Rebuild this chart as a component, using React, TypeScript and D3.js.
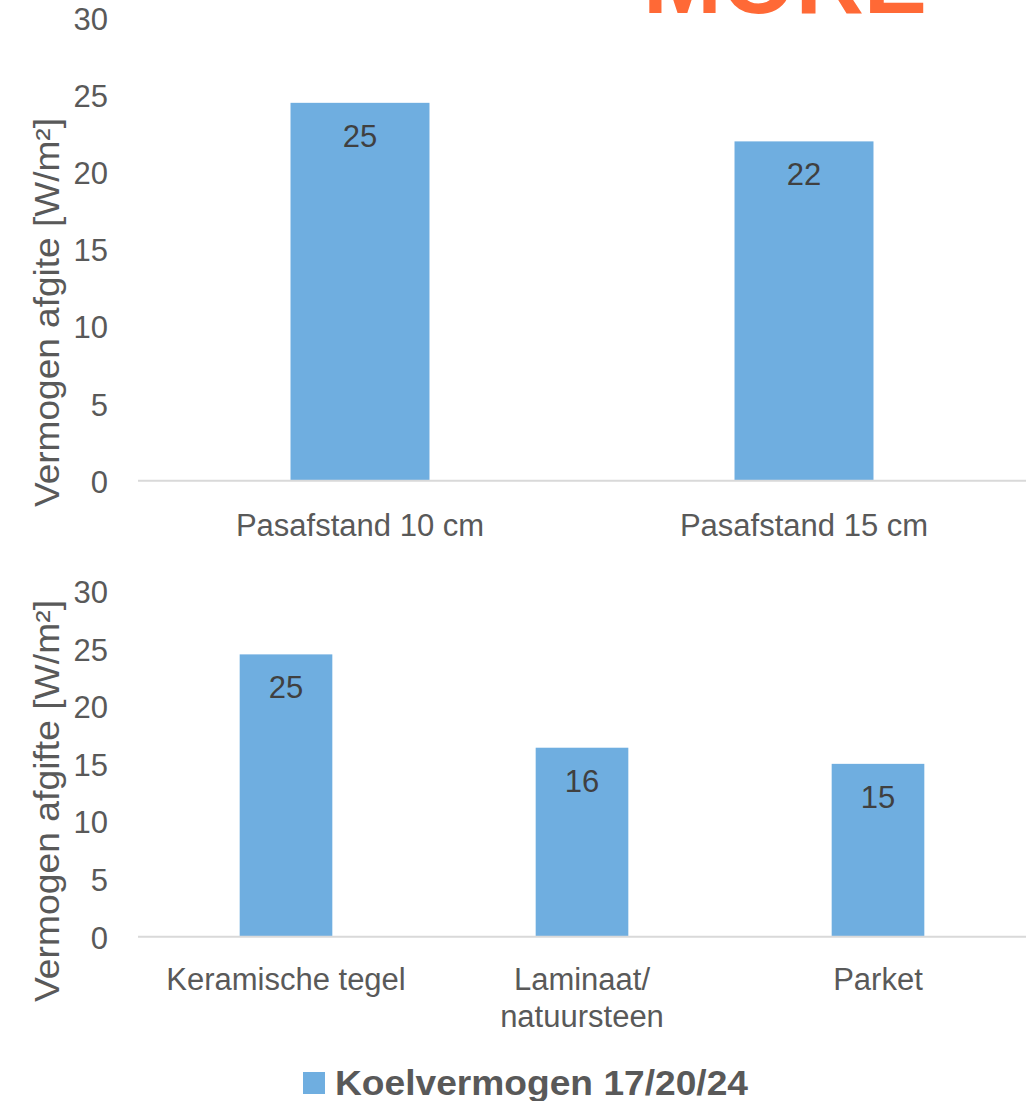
import React from "react";
import * as d3 from "d3";

// Cooling output per panel, W/m²
const seriesName = "Koelvermogen 17/20/24";
const spacingCategories = ["Pasafstand 10 cm", "Pasafstand 15 cm"];
const spacingValues = [24.5, 22.0];
const floorCategories = ["Keramische tegel", "Laminaat/\nnatuursteen", "Parket"];
const floorValues = [24.5, 16.4, 15.0];
const yTicks = [0, 5, 10, 15, 20, 25, 30];
const yMax = 30;
const spacingTitle = "Vermogen afgite [W/m²]";
const floorTitle = "Vermogen afgifte [W/m²]";

const W = 1028;
const H = 1101;
const FONT = "'Liberation Sans', Arial, sans-serif";
const BAR = "#6FAEE0";
const AXIS_TEXT = "#595959";
const VALUE_TEXT = "#404040";

type PanelProps = {
  categories: string[];
  values: number[];
  yTop: number;
  yBottom: number;
  labelY: number;
  title: string;
  titleCenter: number;
  titleLength: number;
};

function Panel({ categories, values, yTop, yBottom, labelY, title, titleCenter, titleLength }: PanelProps) {
  const x = d3
    .scaleBand<string>()
    .domain(categories)
    .range([138, 1026])
    .paddingInner(0.687)
    .paddingOuter(0.3435);
  const y = d3.scaleLinear().domain([0, yMax]).range([yBottom, yTop]);
  const fmt = d3.format(".0f");

  return (
    <g>
      {/* y tick labels */}
      {yTicks.map((t) => (
        <text
          key={t}
          x={108}
          y={y(t) + 1.5}
          textAnchor="end"
          dominantBaseline="central"
          fontSize={31}
          fill={AXIS_TEXT}
        >
          {t}
        </text>
      ))}
      {/* axis title */}
      <text
        transform={`translate(59,${titleCenter}) rotate(-90)`}
        textAnchor="middle"
        fontSize={34.5}
        fill={AXIS_TEXT}
        textLength={titleLength}
        lengthAdjust="spacingAndGlyphs"
      >
        {title}
      </text>
      {/* bars */}
      {categories.map((c, i) => (
        <rect
          key={c}
          x={x(c)}
          y={y(values[i])}
          width={x.bandwidth()}
          height={y(0) - y(values[i])}
          fill={BAR}
        />
      ))}
      {/* category axis */}
      <line x1={138} x2={1026} y1={y(0)} y2={y(0)} stroke="#D9D9D9" strokeWidth={2} />
      {categories.map((c) => (
        <text
          key={c}
          x={(x(c) as number) + x.bandwidth() / 2}
          y={labelY}
          textAnchor="middle"
          fontSize={31}
          fill={AXIS_TEXT}
        >
          {c.split("\n").map((line, k) => (
            <tspan key={k} x={(x(c) as number) + x.bandwidth() / 2} dy={k === 0 ? 0 : 37}>
              {line}
            </tspan>
          ))}
        </text>
      ))}
      {/* value labels */}
      {categories.map((c, i) => (
        <text
          key={c}
          x={(x(c) as number) + x.bandwidth() / 2}
          y={y(values[i]) + 44}
          textAnchor="middle"
          fontSize={31}
          fill={VALUE_TEXT}
        >
          {fmt(values[i])}
        </text>
      ))}
    </g>
  );
}

export default function App() {
  return (
    <svg
      width={W}
      height={H}
      viewBox={`0 0 ${W} ${H}`}
      style={{ position: "absolute", left: 0, top: 0, background: "#fff" }}
      fontFamily={FONT}
    >
      <rect width={W} height={H} fill="#fff" />
      {/* brand mark, cropped at the top edge */}
      <text
        x={643}
        y={13}
        fontSize={92}
        fontWeight="bold"
        fill="#FF6936"
        textLength={284}
        lengthAdjust="spacingAndGlyphs"
      >
        MORE
      </text>
      <Panel
        categories={spacingCategories}
        values={spacingValues}
        yTop={18}
        yBottom={480.7}
        labelY={536}
        title={spacingTitle}
        titleCenter={312.5}
        titleLength={389}
      />
      <Panel
        categories={floorCategories}
        values={floorValues}
        yTop={591}
        yBottom={936.7}
        labelY={990}
        title={floorTitle}
        titleCenter={801}
        titleLength={402}
      />
      {/* legend */}
      <rect x={303} y={1072} width={22} height={22} fill={BAR} />
      <text
        x={335}
        y={1095}
        fontSize={35}
        fontWeight="bold"
        fill={AXIS_TEXT}
        textLength={413}
        lengthAdjust="spacingAndGlyphs"
      >
        {seriesName}
      </text>
    </svg>
  );
}
